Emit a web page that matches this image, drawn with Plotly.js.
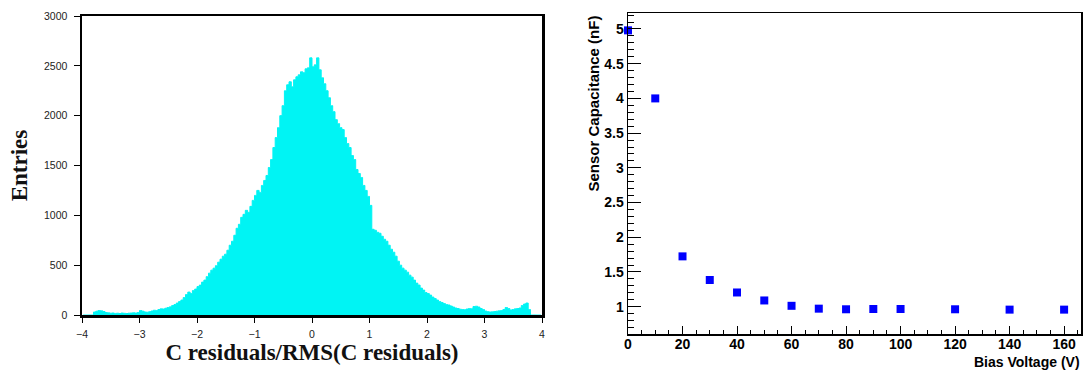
<!DOCTYPE html>
<html>
<head>
<meta charset="utf-8">
<script src="https://cdn.plot.ly/plotly-3.0.1.min.js"></script>
<style>
  html, body { margin: 0; padding: 0; background: #ffffff; }
  #chart { width: 1083px; height: 371px; }
</style>
</head>
<body>
<div id="chart"></div>
<script>
// ---- Left panel: histogram of C residuals / RMS (200 bins, -4 .. 4) ----
const histRange = [-4, 4];
const histEntries = [
  0, 0, 0, 0, 0, 30, 38, 45, 42, 35,
  25, 22, 18, 20, 16, 18, 15, 20, 17, 15,
  18, 20, 22, 19, 25, 45, 38, 30, 28, 33,
  40, 48, 45, 55, 62, 60, 68, 75, 82, 95,
  105, 120, 135, 150, 175, 205, 230, 215, 245, 260,
  285, 300, 330, 350, 385, 420, 450, 470, 495, 530,
  560, 590, 610, 650, 700, 740, 800, 870, 910, 980,
  1010, 1050, 1030, 1090, 1150, 1200, 1250, 1230, 1300, 1350,
  1400, 1480, 1560, 1680, 1780, 1880, 2000, 2100, 2250, 2310,
  2340, 2290, 2360, 2390, 2410, 2440, 2430, 2470, 2480, 2580,
  2490, 2510, 2580, 2460, 2380, 2320, 2250, 2180, 2100, 2040,
  1960, 1920, 1880, 1860, 1780, 1720, 1680, 1600, 1560, 1460,
  1420, 1380, 1300, 1250, 1190, 1100, 860, 850, 830, 820,
  790, 760, 740, 700, 660, 630, 590, 540, 500, 470,
  450, 430, 400, 380, 350, 320, 300, 270, 250, 225,
  215, 200, 180, 165, 150, 135, 125, 115, 105, 100,
  90, 80, 70, 65, 58, 55, 52, 60, 65, 62,
  85, 88, 80, 65, 55, 40, 33, 30, 32, 35,
  38, 42, 45, 55, 75, 65, 50, 55, 62, 65,
  70, 95, 110, 120, 55, 0, 0, 0, 0, 0
];
const histXTicks = [-4, -3, -2, -1, 0, 1, 2, 3, 4];
const histYTicks = [0, 500, 1000, 1500, 2000, 2500, 3000];

// bin centres derived from the histogram range and number of bins
const nBins = histEntries.length;
const binW = (histRange[1] - histRange[0]) / nBins;
const binCenters = histEntries.map((_, i) => histRange[0] + binW * (i + 0.5));

// ---- Right panel: sensor capacitance vs bias voltage ----
const biasVoltage = [0, 10, 20, 30, 40, 50, 60, 70, 80, 90, 100, 120, 140, 160];
const capacitance = [4.98, 4.00, 1.725, 1.385, 1.205, 1.09, 1.013, 0.972, 0.963, 0.967, 0.967, 0.963, 0.958, 0.958];
const capXTicks = [0, 20, 40, 60, 80, 100, 120, 140, 160];
const capYTicks = [1, 1.5, 2, 2.5, 3, 3.5, 4, 4.5, 5];
const capYTickText = ['1', '1.5', '2', '2.5', '3', '3.5', '4', '4.5', '5'];

const W = 1083, H = 371;

const traces = [
  {
    type: 'scatter',
    x: binCenters,
    y: histEntries,
    mode: 'lines',
    line: { shape: 'hvh', color: '#00f4f4', width: 1 },
    fill: 'tozeroy',
    fillcolor: '#00f4f4',
    xaxis: 'x', yaxis: 'y',
    hoverinfo: 'x+y'
  },
  {
    type: 'scatter',
    x: biasVoltage,
    y: capacitance,
    mode: 'markers',
    marker: { symbol: 'square', size: 8, color: '#0000ff' },
    cliponaxis: false,
    xaxis: 'x2', yaxis: 'y2'
  }
];

const serif = '"Liberation Serif", "Times New Roman", Times, serif';
const sans = '"Liberation Sans", Arial, Helvetica, sans-serif';

const layout = {
  width: W, height: H,
  margin: { l: 0, r: 0, t: 0, b: 0, pad: 0 },
  paper_bgcolor: '#ffffff',
  plot_bgcolor: '#ffffff',
  showlegend: false,
  xaxis: {
    domain: [82 / W, 542 / W],
    range: histRange,
    tickmode: 'array', tickvals: histXTicks,
    ticks: 'outside', ticklen: 5, tickwidth: 1, tickcolor: '#000',
    ticklabelstandoff: 3,
    showline: true, linewidth: 2.5, linecolor: '#000', mirror: true,
    showgrid: false, zeroline: false,
    tickfont: { family: sans, size: 10.5, color: '#222' },
    title: { text: 'C residuals/RMS(C residuals)', standoff: 5,
             font: { family: serif, size: 23, color: '#111', weight: 'bold' } },
    automargin: false
  },
  yaxis: {
    domain: [1 - 315 / H, 1 - 16 / H],
    range: [0, 3000],
    tickmode: 'array', tickvals: histYTicks,
    ticks: 'outside', ticklen: 6, tickwidth: 1, tickcolor: '#000',
    ticklabelstandoff: 4,
    showline: true, linewidth: 2.5, linecolor: '#000', mirror: true,
    showgrid: false, zeroline: false,
    tickfont: { family: sans, size: 10.5, color: '#222' },
    title: { text: 'Entries', standoff: 10,
             font: { family: serif, size: 23, color: '#111', weight: 'bold' } },
    automargin: false
  },
  xaxis2: {
    domain: [628 / W, 1081 / W],
    range: [0, 166.2],
    anchor: 'y2',
    tickmode: 'array', tickvals: capXTicks,
    ticks: 'inside', ticklen: 8, tickwidth: 1, tickcolor: '#000',
    ticklabelstandoff: -3,
    minor: { dtick: 5, tick0: 0, ticks: 'inside', ticklen: 4, tickcolor: '#000', showgrid: false },
    showline: true, linewidth: 1.5, linecolor: '#000', mirror: true,
    showgrid: false, zeroline: false,
    tickfont: { family: sans, size: 14, color: '#000', weight: 'bold' },
    automargin: false
  },
  yaxis2: {
    domain: [1 - 334 / H, 1 - 13 / H],
    range: [0.607, 5.23],
    anchor: 'x2',
    tickmode: 'array', tickvals: capYTicks, ticktext: capYTickText,
    ticks: 'inside', ticklen: 13, tickwidth: 1, tickcolor: '#000',
    minor: { dtick: 0.1, tick0: 0, ticks: 'inside', ticklen: 6, tickcolor: '#000', showgrid: false },
    showline: true, linewidth: 1.5, linecolor: '#000', mirror: true,
    showgrid: false, zeroline: false,
    tickfont: { family: sans, size: 14, color: '#000', weight: 'bold' },
    automargin: false
  },
  annotations: [
    {
      text: 'Sensor Capacitance (nF)',
      xref: 'paper', yref: 'paper',
      x: 593 / W, y: 1 - 103.5 / H,
      xanchor: 'center', yanchor: 'middle',
      textangle: -90, showarrow: false,
      font: { family: sans, size: 15, color: '#000', weight: 'bold' }
    },
    {
      text: 'Bias Voltage (V)',
      xref: 'paper', yref: 'paper',
      x: 1082 / W, y: 1 - 362 / H,
      xanchor: 'right', yanchor: 'middle',
      showarrow: false,
      font: { family: sans, size: 14, color: '#000', weight: 'bold' }
    }
  ]
};

Plotly.newPlot('chart', traces, layout, { displayModeBar: false, staticPlot: true });
</script>
</body>
</html>
